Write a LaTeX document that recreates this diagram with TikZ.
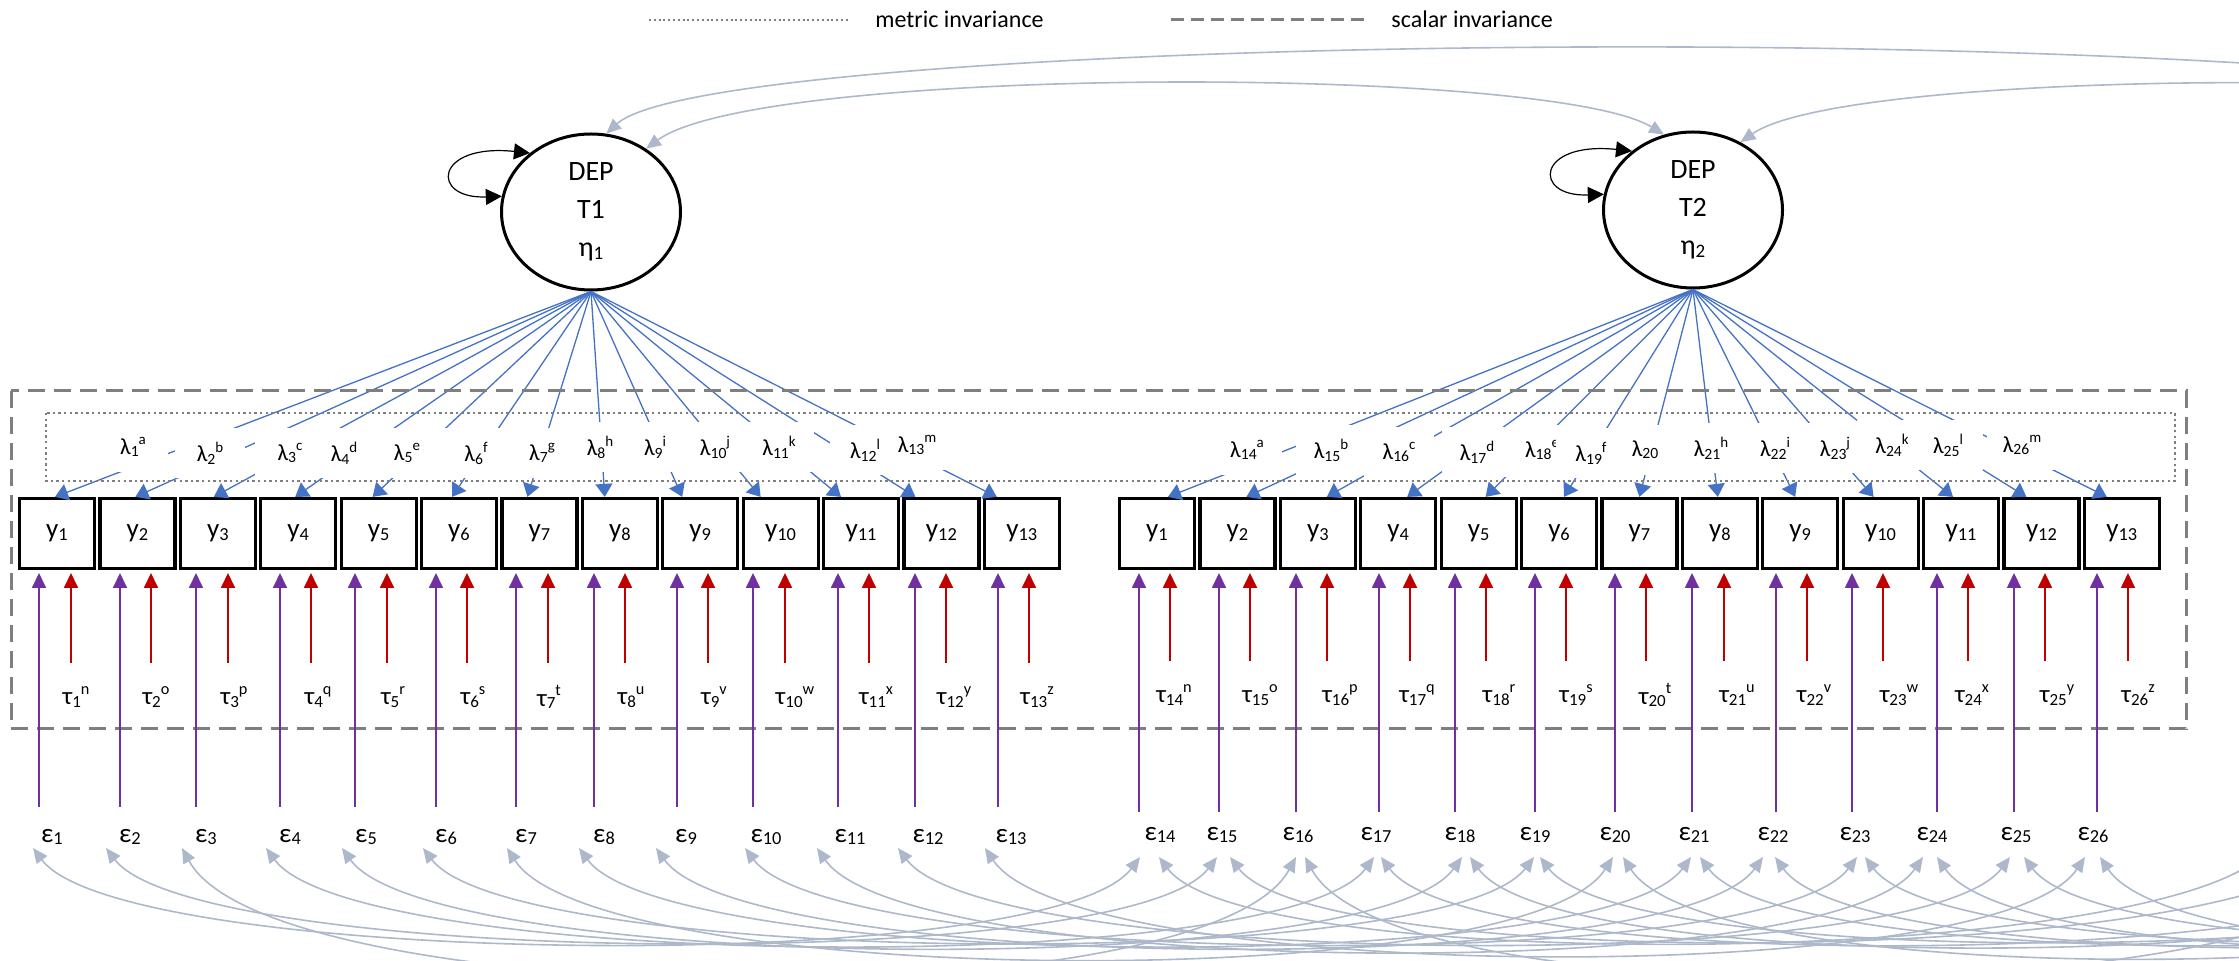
\documentclass[tikz,border=0pt]{standalone}
\usepackage{fontspec}
\usepackage{graphicx}
\setmainfont{Carlito}
\usetikzlibrary{arrows.meta,calc,shapes.geometric}
\definecolor{ldblue}{HTML}{4472C4}
\definecolor{lpurple}{HTML}{7030A0}
\definecolor{lred}{HTML}{C00000}
\definecolor{lcov}{HTML}{ADB9CA}
\definecolor{lgray}{HTML}{7F7F7F}
\newcommand\dsub[1]{\raisebox{-0.1em}{\scalebox{0.68}{#1}}}
\newcommand\dsup[1]{\raisebox{0.42em}{\scalebox{0.65}{#1}}}
\begin{document}
\begin{tikzpicture}[x=0.5pt,y=-0.5pt,
  latent/.style={ellipse,draw=black,line width=1.5pt,minimum width=89.5pt,minimum height=78pt,inner sep=0pt,align=center,font=\fontsize{14}{19}\selectfont},
  obs/.style={rectangle,draw=black,line width=1.6pt,minimum width=37.5pt,minimum height=35pt,inner sep=0pt,font=\fontsize{13.5}{15}\selectfont},
  lam/.style={fill=white,minimum width=35pt,minimum height=25pt,inner sep=0pt,font=\fontsize{11.5}{13}\selectfont},
  taulab/.style={minimum height=34pt,inner sep=0pt,font=\fontsize{12.5}{14}\selectfont},
  epsA/.style={minimum height=30pt,inner sep=0pt,font=\fontsize{13.5}{15}\selectfont},
  epsB/.style={minimum height=23pt,inner sep=0pt,font=\fontsize{13.5}{15}\selectfont},
  legtext/.style={inner sep=0pt,font=\fontsize{12}{14}\selectfont},
  load/.style={draw=ldblue,line width=0.65pt,-{Triangle[length=6.5pt,width=8.5pt]}},
  parr/.style={draw=lpurple,line width=0.9pt,-{Triangle[length=7.5pt,width=7pt]}},
  rarr/.style={draw=lred,line width=0.9pt,-{Triangle[length=7.5pt,width=7pt]}},
  cov/.style={draw=lcov,line width=0.8pt,{Triangle[length=7.5pt,width=6.5pt]}-{Triangle[length=7.5pt,width=6.5pt]}},
  covone/.style={draw=lcov,line width=0.8pt,{Triangle[length=7.5pt,width=6.5pt]}-},
  selfloop/.style={draw=black,line width=0.6pt,{Triangle[length=8pt,width=8pt]}-{Triangle[length=8pt,width=8pt]}},
  scalarbox/.style={draw=lgray,line width=1.5pt,dash pattern=on 8.5pt off 4.5pt},
  scalarleg/.style={draw=lgray,line width=1.5pt,dash pattern=on 6.5pt off 3.5pt},
  metricbox/.style={draw=lgray,line width=1.2pt,dash pattern=on 1.2pt off 1.6pt},
  metricleg/.style={draw=lgray,line width=1pt,dash pattern=on 1pt off 1.4pt}
]
\useasboundingbox (0,0) rectangle (2239,961);

% legend
\coordinate (lgA) at (649,20); \coordinate (lgB) at (848,20);
\draw[metricleg] (lgA) -- (lgB);
\node[legtext,anchor=base west] (lgmetric) at (875,28) {metric invariance};
\coordinate (lgC) at (1171,20); \coordinate (lgD) at (1371,20);
\draw[scalarleg] (lgC) -- (lgD);
\node[legtext,anchor=base west] (lgscalar) at (1391,28) {scalar invariance};

% latent variables
\node[latent] (T1) at (591,212) {DEP\\T1\\η\dsub{1}};
\node[latent] (T2) at (1693,210) {DEP\\T2\\η\dsub{2}};
\draw[selfloop] (T1.136) .. controls +(-96,-10) and +(-72,3) .. (T1.170);
\draw[selfloop] (T2.136) .. controls +(-96,-10) and +(-72,3) .. (T2.170);

% observed boxes
\foreach \i in {1,...,13}{
  \node[obs] (yA\i) at ({57+80.4*(\i-1)},533.5) {y\dsub{\i}};
  \node[obs] (yB\i) at ({1157+80.4*(\i-1)},533.5) {y\dsub{\i}};
}

% loadings
\foreach \i/\off in {1/-2,2/-2,3/-4,4/-3,5/-6,6/-7,7/-12,8/-15,9/-18,10/-20,11/-20,12/-26,13/-25}
  \draw[load] (T1.south) -- ($(yA\i.north)+(\off,0)$);
\foreach \i/\off in {1/11,2/9,3/9,4/9,5/7,6/5,7/0,8/-2,9/-5,10/-7,11/-8,12/-15,13/-15}
  \draw[load] (T2.south) -- ($(yB\i.north)+(\off,0)$);

% loading labels
\foreach \n/\lx/\ly/\ls in {1/133/447/a,2/210/453/b,3/290/453/c,4/344/453/d,5/407/453/e,6/476/453/f,7/542/453/g,8/600/447/h,9/655/447/i,10/715/447/j,11/779/447/k,12/865/450/l,13/917/445/m,
  14/1247/450/a,15/1331/450/b,16/1399/452/c,17/1477/452/d,18/1542/450/e,19/1591/453/f,20/1645/450/{},21/1711/448/h,22/1775/448/i,23/1835/448/j,24/1892/445/k,25/1948/445/l,26/2022/445/m}
  \node[lam] (lam\n) at (\lx,\ly) {λ\dsub{\n}\dsup{\ls}};

% invariance frames
\coordinate (sbA) at (11,391); \coordinate (sbB) at (2186,729);
\draw[scalarbox] (sbA) rectangle (sbB);
\coordinate (mbA) at (46,413); \coordinate (mbB) at (2175,481);
\draw[metricbox] (mbA) rectangle (mbB);

% time 1 indicators: intercepts, errors
\foreach \i/\px/\rx/\ex/\tx/\cx/\ts in {1/39/71/52/76/33/n,2/120/151/130/156/106/o,3/196/228/206/234/182/p,4/280/311/290/318/266/q,5/355/387/366/393/342/r,6/436/467/446/473/423/s,7/516/548/526/549/507/t,8/594/625/604/631/579/u,9/677/708/686/714/656/v,10/753/785/766/795/745/w,11/838/869/850/876/817/x,12/915/946/928/954/898/y,13/998/1029/1011/1037/985/z}{
  \node[epsA] (eA\i) at (\ex,837) {ε\dsub{\i}};
  \node[taulab] (tA\i) at (\tx,697) {τ\dsub{\i}\dsup{\ts}};
  \coordinate (pA\i) at (\px,573);
  \coordinate (rA\i) at (\rx,573);
  \coordinate (cA\i) at (\cx,848);
  \draw[parr] (pA\i |- eA\i.north) -- (pA\i);
  \draw[rarr] (rA\i |- tA\i.north) -- (rA\i);
}

% time 2 indicators
\begin{scope}
\clip (0,0) rectangle (2239,961);
\foreach \j/\n/\px/\rx/\ex/\tx/\cl/\cr/\ts/\d in {1/14/1139/1170/1160/1174/1140/1159/n/120,2/15/1219/1250/1222/1260/1217/1230/o/118,3/16/1296/1327/1298/1340/1296/1305/p/165,4/17/1379/1410/1376/1417/1374/1381/q/122,5/18/1455/1486/1460/1499/1462/1470/r/125,6/19/1535/1566/1535/1576/1534/1540/s/118,7/20/1615/1646/1615/1655/1613/1623/t/140,8/21/1692/1724/1694/1737/1691/1700/u/122,9/22/1776/1807/1773/1814/1763/1775/v/125,10/23/1852/1883/1855/1899/1857/1865/w/120,11/24/1937/1968/1932/1972/1923/1937/x/130,12/25/2014/2045/2016/2057/2010/2024/y/120,13/26/2097/2128/2093/2138/2085/2100/z/135}{
  \node[epsB] (eB\j) at (\ex,835) {ε\dsub{\n}};
  \node[taulab] (tB\j) at (\tx,695) {τ\dsub{\n}\dsup{\ts}};
  \coordinate (pB\j) at (\px,573);
  \coordinate (rB\j) at (\rx,573);
  \coordinate (cBl\j) at (\cl,857);
  \coordinate (cBr\j) at (\cr,857);
  \coordinate (cC\j) at ({\cr+1110},848);
  \draw[parr] (pB\j |- eB\j.north) -- (pB\j);
  \draw[rarr] (rB\j |- tB\j.north) -- (rB\j);
  \draw[cov] (cA\j) .. controls +(90,\d) and +(-90,\d) .. (cBl\j);
  \draw[covone] (cBr\j) .. controls +(90,\d) and +(-90,\d) .. (cC\j);
}

% latent covariances
\coordinate (T3a) at (2767,132);
\coordinate (T3b) at (2767,137);
\draw[covone] (T1.79) .. controls (720,30) and (2400,10) .. (T3a);
\draw[cov] (T1.49) .. controls (760,65) and (1550,65) .. (T2.111);
\draw[covone] (T2.55) .. controls (1851,65) and (2652,65) .. (T3b);
\end{scope}
\end{tikzpicture}
\end{document}
